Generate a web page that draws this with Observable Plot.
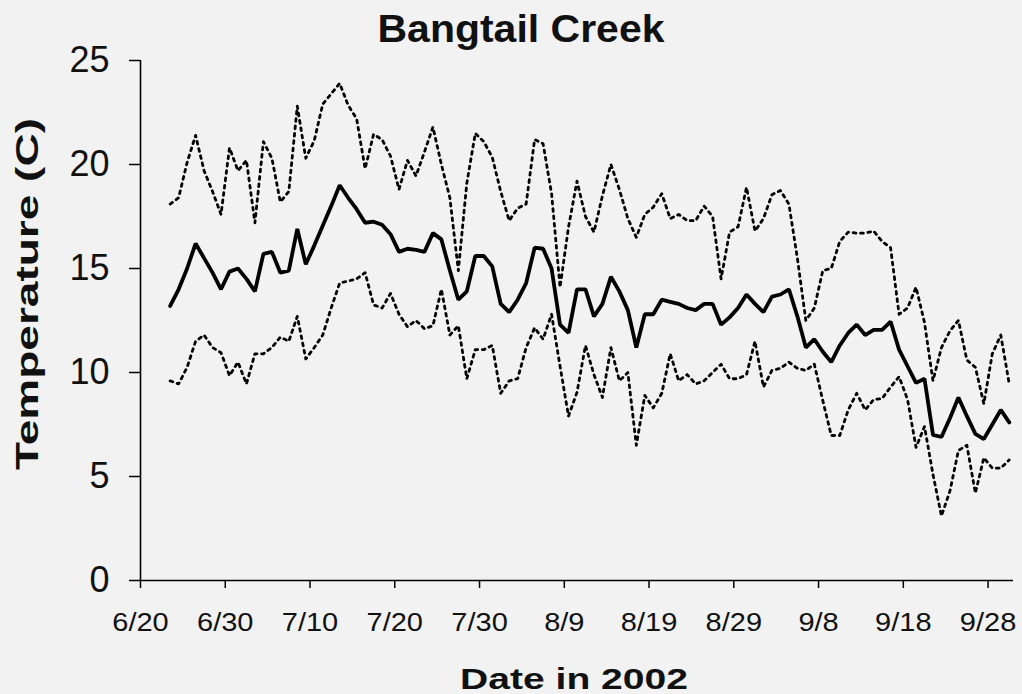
<!DOCTYPE html>
<html><head><meta charset="utf-8">
<script src="https://cdn.jsdelivr.net/npm/d3@7"></script>
<script src="https://cdn.jsdelivr.net/npm/@observablehq/plot@0.6"></script>
<style>
html,body{margin:0;padding:0;background:#f2f2f2;}
#chart svg{display:block;}
</style></head><body>
<div id="chart"></div>
<script>
// Daily values, one per day starting 2002-06-23
const firstDay = "2002-06-23";
const meanTemp = [
13.2,14.0,15.0,16.2,15.5,14.8,14.0,14.85,15.0,14.5,
13.9,15.7,15.8,14.8,14.9,16.9,15.2,16.1,17.05,18.0,
19.0,18.4,17.85,17.2,17.25,17.1,16.65,15.8,15.95,15.9,
15.8,16.7,16.4,14.9,13.5,13.9,15.6,15.6,15.1,13.3,
12.9,13.5,14.3,16.0,15.95,15.0,12.3,11.9,14.0,14.0,
12.7,13.3,14.6,13.9,13.0,11.2,12.8,12.8,13.5,13.4,
13.3,13.1,13.0,13.3,13.3,12.3,12.65,13.1,13.75,13.3,
12.9,13.65,13.75,14.0,12.7,11.2,11.6,11.0,10.5,11.3,
11.9,12.3,11.8,12.05,12.05,12.45,11.1,10.3,9.5,9.7,
7.0,6.9,7.8,8.8,7.9,7.05,6.8,7.5,8.2,7.6];
const maxTemp = [
18.1,18.4,20.1,21.4,19.7,18.7,17.6,20.8,19.7,20.2,
17.2,21.1,20.3,18.2,18.7,22.8,20.3,21.15,22.9,23.4,
23.9,22.85,22.2,19.8,21.45,21.2,20.4,18.8,20.2,19.45,
20.6,21.8,20.0,18.4,14.9,19.1,21.5,21.1,20.35,18.7,
17.3,17.9,18.1,21.2,21.0,18.6,14.1,17.0,19.2,17.5,
16.75,18.5,20.0,18.8,17.4,16.5,17.6,17.95,18.6,17.4,
17.6,17.3,17.3,18.0,17.5,14.5,16.75,17.0,18.9,16.8,
17.4,18.55,18.75,18.1,15.5,12.5,13.1,14.9,15.0,16.3,
16.75,16.7,16.7,16.8,16.3,16.0,12.8,13.1,14.1,12.4,
9.6,11.2,12.0,12.5,10.6,10.25,8.5,10.9,11.8,9.45];
const minTemp = [
9.6,9.45,10.25,11.5,11.8,11.2,10.95,9.85,10.5,9.45,
10.9,10.9,11.2,11.7,11.5,12.7,10.65,11.2,11.8,13.1,
14.3,14.4,14.5,14.8,13.25,13.1,13.8,12.8,12.2,12.5,
12.1,12.25,14.0,11.8,12.25,9.7,11.1,11.1,11.3,9.0,
9.6,9.7,11.2,12.15,11.6,12.8,10.3,7.9,9.05,11.3,
9.9,8.8,11.2,9.6,10.0,6.5,8.9,8.3,9.0,10.9,
9.6,9.9,9.45,9.6,10.0,10.4,9.7,9.7,9.9,11.5,
9.3,10.1,10.2,10.5,10.2,10.1,10.4,8.65,6.97,6.97,
8.2,9.0,8.2,8.7,8.75,9.3,9.8,8.7,6.4,7.4,
5.1,3.1,4.3,6.25,6.5,4.2,5.9,5.4,5.4,5.8];
const tickDays = ["2002-06-20","2002-06-30","2002-07-10","2002-07-20","2002-07-30",
  "2002-08-09","2002-08-19","2002-08-29","2002-09-08","2002-09-18","2002-09-28"];
const tickLabels = ["6/20","6/30","7/10","7/20","7/30","8/9","8/19","8/29","9/8","9/18","9/28"];
const yTicks = [0,5,10,15,20,25];
const xStart = "2002-06-20";
const xEnd = "2002-10-01";

const day0 = new Date(firstDay + "T12:00:00Z");
const dayOf = (i) => d3.utcDay.offset(day0, i);
const tickDates = tickDays.map(s => new Date(s + "T00:00:00Z"));
const fmt = d => { const k = tickDates.findIndex(t => +t === +d); return k >= 0 ? tickLabels[k] : ""; };

const font = "'Liberation Sans', Arial, Helvetica, sans-serif";

const chart = Plot.plot({
  width: 1022, height: 694,
  marginLeft: 140, marginRight: 9, marginTop: 60, marginBottom: 114,
  style: {background: "transparent", fontFamily: font, color: "#000", overflow: "visible"},
  x: {type: "utc", domain: [new Date(xStart + "T00:00:00Z"), new Date(xEnd + "T00:00:00Z")]},
  y: {domain: [0, 25]},
  marks: [
    Plot.axisX({ticks: tickDates, tickFormat: fmt, tickSize: 8, tickPadding: 25, fontSize: 25, label: null, stroke: "#000", strokeWidth: 1.5, fill: "#111"}),
    Plot.axisY({ticks: yTicks, tickSize: 11, tickPadding: 20, fontSize: 36, label: null, stroke: "#000", strokeWidth: 1.5, fill: "#111"}),
    Plot.ruleY([0], {stroke: "#000", strokeWidth: 1.6}),
    Plot.ruleX([new Date(xStart + "T00:00:00Z")], {stroke: "#000", strokeWidth: 1.6}),
    Plot.line(maxTemp, {x: (d, i) => dayOf(i), y: d => d, stroke: "#000", strokeWidth: 2.8, strokeDasharray: "2.8,4.6", strokeLinejoin: "round"}),
    Plot.line(minTemp, {x: (d, i) => dayOf(i), y: d => d, stroke: "#000", strokeWidth: 2.8, strokeDasharray: "2.8,4.6", strokeLinejoin: "round"}),
    Plot.line(meanTemp, {x: (d, i) => dayOf(i), y: d => d, stroke: "#000", strokeWidth: 3.8, strokeLinejoin: "miter"})
  ]
});
document.getElementById("chart").appendChild(chart);

const svg = d3.select(chart);
// widen x tick labels slightly to match the reference proportions
svg.selectAll("g[aria-label='x-axis tick label'] text").each(function() {
  const w = this.getComputedTextLength();
  if (w > 0) d3.select(this).attr("textLength", w * 1.16).attr("lengthAdjust", "spacingAndGlyphs");
});

svg.append("text")
  .attr("x", 521).attr("y", 42)
  .attr("text-anchor", "middle")
  .attr("font-family", font).attr("font-weight", "bold").attr("font-size", 38)
  .attr("fill", "#111")
  .attr("textLength", 287).attr("lengthAdjust", "spacingAndGlyphs")
  .text("Bangtail Creek");

svg.append("text")
  .attr("transform", "translate(38,294) rotate(-90)")
  .attr("text-anchor", "middle")
  .attr("font-family", font).attr("font-weight", "bold").attr("font-size", 32)
  .attr("fill", "#111")
  .attr("textLength", 352).attr("lengthAdjust", "spacingAndGlyphs")
  .text("Temperature (C)");

svg.append("text")
  .attr("x", 574).attr("y", 689)
  .attr("text-anchor", "middle")
  .attr("font-family", font).attr("font-weight", "bold").attr("font-size", 30)
  .attr("fill", "#111")
  .attr("textLength", 228).attr("lengthAdjust", "spacingAndGlyphs")
  .text("Date in 2002");
</script>
</body></html>
